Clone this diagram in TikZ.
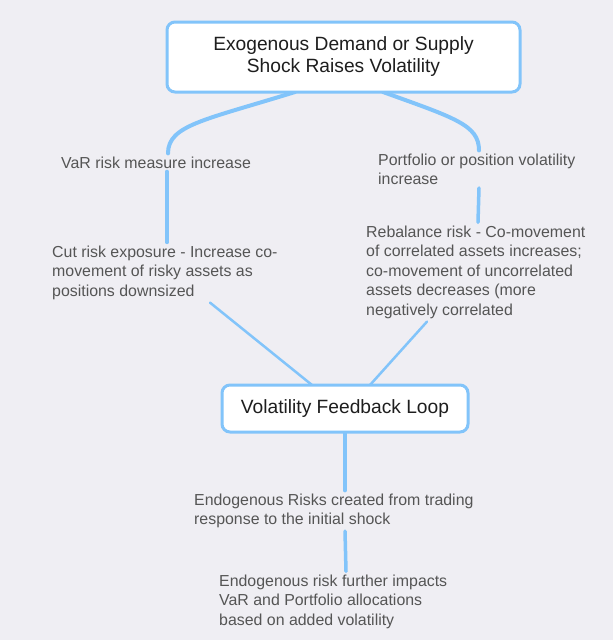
\documentclass[tikz,border=0pt]{standalone}
\usepackage{fontspec}
\setmainfont{Liberation Sans}
\definecolor{bg}{HTML}{EFEEF3}
\definecolor{edge}{HTML}{82C4FA}
\definecolor{boxtxt}{HTML}{1E1E1E}
\definecolor{lbltxt}{HTML}{555555}
\tikzset{
  mainbox/.style={draw=edge, line width=3pt, fill=white, rounded corners=8pt,
    align=center, text=boxtxt, font=\fontsize{19.2}{22}\selectfont, inner sep=0pt},
  lbl/.style={anchor=north west, align=left, text=lbltxt,
    font=\fontsize{15.9}{19.5}\selectfont, inner xsep=0pt, inner ysep=3pt},
  conn/.style={draw=edge, line cap=round},
}
\begin{document}
\begin{tikzpicture}[x=1pt,y=-1pt]
\fill[bg] (0,0) rectangle (613,640);
\useasboundingbox (0,0) rectangle (613,640);

\node[lbl] (var) at (61,153.4) {VaR risk measure increase};
\node[lbl] (port) at (378,150.4) {Portfolio or position volatility\\increase};
\node[lbl] (cut) at (52,242.4) {Cut risk exposure - Increase co-\\movement of risky assets as\\positions downsized};
\node[lbl] (rebal) at (366,222.4) {Rebalance risk - Co-movement\\of correlated assets increases;\\co-movement of uncorrelated\\assets decreases (more\\negatively correlated};
\node[lbl] (endo1) at (194,490.4) {Endogenous Risks created from trading\\response to the initial shock};
\node[lbl] (endo2) at (219,571.4) {Endogenous risk further impacts\\VaR and Portfolio allocations\\based on added volatility};

\coordinate (topS) at (343.5,92);
\coordinate (loopN) at (345,385);
\coordinate (loopS) at (345,432);

\draw[conn, line width=4pt] ([xshift=-48.5pt]topS) .. controls (205,120) and (168,125) .. ([xshift=107pt]var.north west);
\draw[conn, line width=4pt] ([xshift=39.5pt]topS) .. controls (455,118) and (479,125) .. ([xshift=101pt]port.north west);
\draw[conn, line width=3.5pt] ([xshift=106pt]var.south west) -- ([xshift=115pt]cut.north west);
\draw[conn, line width=3.5pt] ([xshift=101pt]port.south west) -- ([xshift=112pt]rebal.north west);
\draw[conn, line width=2.5pt] ([xshift=158pt]cut.south west) -- ([xshift=-33pt]loopN);
\draw[conn, line width=2.5pt] ([xshift=61pt]rebal.south west) -- ([xshift=25pt]loopN);
\draw[conn, line width=4pt] (loopS) -- ([xshift=151pt]endo1.north west);
\draw[conn, line width=3.5pt] ([xshift=151pt]endo1.south west) -- ([xshift=127pt]endo2.north west);

\node[mainbox, minimum width=353pt, minimum height=70pt] (top) at (343.5,57)
  {Exogenous Demand or Supply\\Shock Raises Volatility};
\node[mainbox, minimum width=246pt, minimum height=47pt] (loop) at (345,408.5)
  {Volatility Feedback Loop};
\end{tikzpicture}
\end{document}
